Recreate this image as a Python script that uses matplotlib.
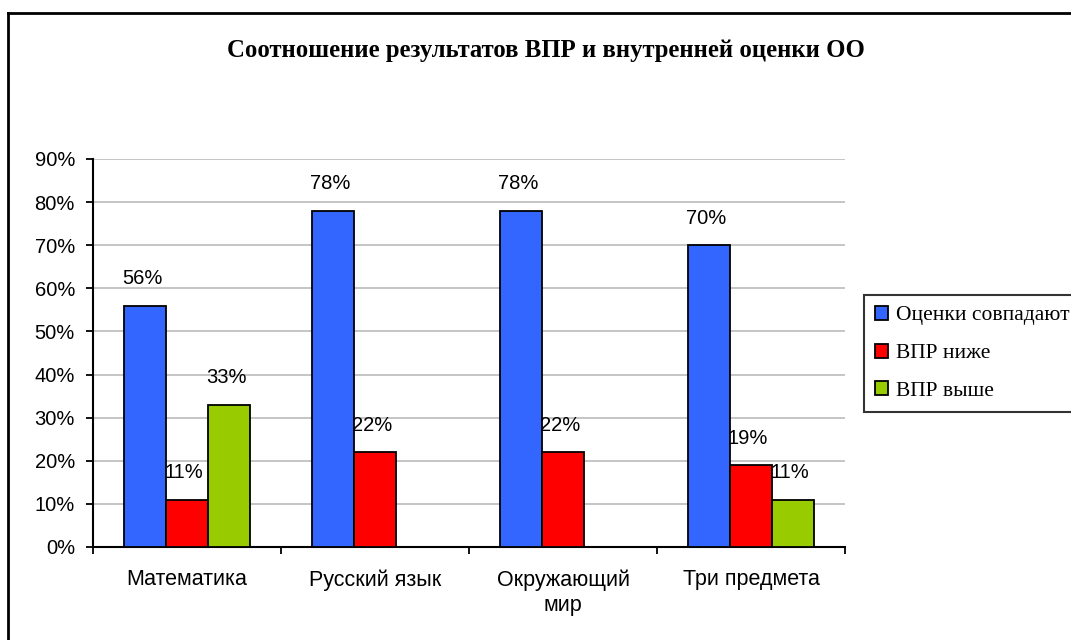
import matplotlib
matplotlib.use("Agg")
import matplotlib.pyplot as plt
import numpy as np
from matplotlib.lines import Line2D
from matplotlib.patches import Patch

categories = ["Математика", "Русский язык", "Окружающий\nмир", "Три предмета"]
series_names = ["Оценки совпадают", "ВПР ниже", "ВПР выше"]
match_vals = [56, 78, 78, 70]
lower_vals = [11, 22, 22, 19]
higher_vals = [33, 0, 0, 11]
colors = ["#3366FF", "#FF0000", "#99CC00"]
yticks = [0, 10, 20, 30, 40, 50, 60, 70, 80, 90]
title = "Соотношение результатов ВПР и внутренней оценки ОО"

W, H = 1071, 640
fig = plt.figure(figsize=(W / 100, H / 100), dpi=100)
ax = fig.add_axes([93 / W, 93 / H, (845 - 93) / W, (547 - 159) / H])

series = [match_vals, lower_vals, higher_vals]
x = np.arange(len(categories))
bw = 42 / 188
for i, (vals, col) in enumerate(zip(series, colors)):
    pos = x + (i - 1) * bw
    ax.bar(pos, vals, width=bw, color=col, edgecolor="black", linewidth=1.3, zorder=3)
    for p, v in zip(pos, vals):
        if v > 0:
            ax.annotate(f"{v}%", (p, v), xytext=(-3, 27), textcoords="offset pixels",
                        ha="center", va="center", fontsize=14.5,
                        family="Liberation Sans", zorder=4)

ax.set_xlim(-0.5, len(categories) - 0.5)
ax.set_ylim(0, 90)
ax.set_yticks(yticks)
ax.set_yticklabels([f"{t}%" for t in yticks], family="Liberation Sans", fontsize=14.5)
ax.yaxis.grid(True, color="#c0c0c0", linewidth=1.3, zorder=0)
ax.set_axisbelow(True)

ax.set_xticks(np.arange(len(categories) + 1) - 0.5)
ax.set_xticklabels([])
ax.set_xticks(x, minor=True)
ax.set_xticklabels(categories, minor=True, family="Liberation Sans", fontsize=15.5,
                   linespacing=1.25, va="top")
ax.tick_params(axis="x", which="minor", length=0, pad=16)
ax.tick_params(axis="x", which="major", length=5, width=1.3, direction="out")
ax.tick_params(axis="y", length=5, width=1.3, direction="out", pad=8)

for s in ["top", "right"]:
    ax.spines[s].set_visible(False)
for s in ["left", "bottom"]:
    ax.spines[s].set_linewidth(1.5)

fig.text((229 + 862) / 2 / W, 1 - 50 / H, title, ha="center", va="center",
         family="Liberation Serif", fontweight="bold", fontsize=17.8)

handles = [Patch(facecolor=c, edgecolor="black", linewidth=1.3) for c in colors]
leg = fig.legend(handles, series_names, loc="upper left",
                 bbox_to_anchor=(864 / W, 1 - 295 / H),
                 prop={"family": "Liberation Serif", "size": 15.5},
                 frameon=True, fancybox=False, handlelength=0.62, handleheight=0.62,
                 handletextpad=0.35, labelspacing=0.85, borderpad=0.5,
                 borderaxespad=0)
leg.get_frame().set_edgecolor("black")
leg.get_frame().set_linewidth(1.5)

fig.add_artist(Line2D([8 / W, 1], [1 - 13 / H, 1 - 13 / H], color="black",
                      linewidth=2, transform=fig.transFigure))
fig.add_artist(Line2D([8 / W, 8 / W], [0, 1 - 13 / H], color="black",
                      linewidth=2, transform=fig.transFigure))

fig.savefig("out.png", dpi=100)
